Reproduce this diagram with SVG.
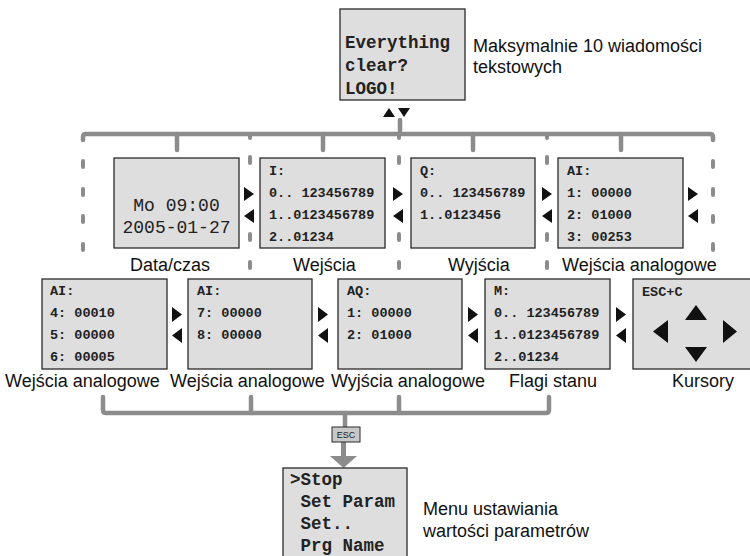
<svg xmlns="http://www.w3.org/2000/svg" width="750" height="556" viewBox="0 0 750 556">
<style>
.box{fill:#dedede;stroke:#2a2a2a;stroke-width:1.3}
.mono{font-family:"Liberation Mono","Courier New",monospace;font-weight:bold;font-size:13.5px;fill:#222}
.big{font-family:"Liberation Mono","Courier New",monospace;font-weight:bold;font-size:17.5px;fill:#222}
.lbl{font-family:"Liberation Sans",Arial,sans-serif;font-size:18px;fill:#111}
.bar{fill:none;stroke:#8c8c8c;stroke-width:4.5;stroke-linecap:round;stroke-linejoin:round}
.dash{fill:none;stroke:#8c8c8c;stroke-width:4;stroke-linecap:round}
.tri{fill:#111}
</style>
<rect width="750" height="556" fill="#fff"/>

<g id="connectors">
  <path class="bar" d="M400,120 V134"/>
  <path class="bar" d="M83,140 V137 Q83,134 86,134 H710 Q713,134 713,137 V140"/>
  <path class="bar" d="M177,134 V150 M323,134 V150 M473,134 V150 M621,134 V150"/>
  <path class="dash" d="M83,161 V167 M83,189 V195 M83,216 V222 M83,244 V250"/>
  <path class="dash" d="M713,161 V167 M713,189 V195 M713,216 V222 M713,244 V250"/>
  <path class="dash" d="M250,134 V138 M250,157 V163 M250,234 V240 M250,262 V268"/>
  <path class="dash" d="M399,134 V138 M399,157 V163 M399,234 V240 M399,262 V268"/>
  <path class="dash" d="M547,134 V138 M547,157 V163 M547,234 V240 M547,262 V268"/>
  <path class="bar" d="M103,397 V410 Q103,413 106,413 H546 Q549,413 549,410 V397"/>
  <path class="bar" d="M251,397 V413 M399,397 V413 M345,413 V427"/>
  <path d="M343.5,442 V457" stroke="#8c8c8c" stroke-width="5" fill="none"/>
  <polygon points="330,456 357,456 343.5,468" fill="#8c8c8c"/>
  <polygon class="tri" points="383,117 389,108 395,117"/>
  <polygon class="tri" points="398,108 410,108 404,117"/>
  <g class="tri">
    <polygon points="244,187 254,194 244,201"/><polygon points="254,209 244,216 254,223"/>
    <polygon points="393,187 403,194 393,201"/><polygon points="403,209 393,216 403,223"/>
    <polygon points="542,187 552,194 542,201"/><polygon points="552,209 542,216 552,223"/>
    <polygon points="688,187 698,194 688,201"/><polygon points="698,209 688,216 698,223"/>
    <polygon points="172,307 182,314.5 172,322"/><polygon points="182,328 172,335.5 182,343"/>
    <polygon points="318,307 328,314.5 318,322"/><polygon points="328,328 318,335.5 328,343"/>
    <polygon points="468,307 478,314.5 468,322"/><polygon points="478,328 468,335.5 478,343"/>
    <polygon points="616,307 626,314.5 616,322"/><polygon points="626,328 616,335.5 626,343"/>
  </g>
</g>

<g id="top">
  <rect class="box" x="340" y="9" width="125" height="91"/>
  <text class="big" x="345" y="48">Everything</text>
  <text class="big" x="345" y="71">clear?</text>
  <text class="big" x="345" y="94">LOGO!</text>
  <text class="lbl" x="473" y="52">Maksymalnie 10 wiadomości</text>
  <text class="lbl" x="473" y="73">tekstowych</text>
</g>

<g id="datetime">
  <rect class="box" x="114" y="158" width="125" height="90"/>
  <text x="176.5" y="211" text-anchor="middle" font-family="Liberation Mono, Courier New, monospace" font-size="18" fill="#222">Mo 09:00</text>
  <text x="176.5" y="233" text-anchor="middle" font-family="Liberation Mono, Courier New, monospace" font-size="18" fill="#222">2005-01-27</text>
  <text class="lbl" x="130" y="271">Data/czas</text>
</g>

<g id="inputs">
  <rect class="box" x="260" y="158" width="125" height="90"/>
  <text class="mono" x="269" y="175">I:</text>
  <text class="mono" x="269" y="197">0.. 123456789</text>
  <text class="mono" x="269" y="219">1..0123456789</text>
  <text class="mono" x="269" y="241">2..01234</text>
  <text class="lbl" x="293" y="271">Wejścia</text>
</g>

<g id="outputs">
  <rect class="box" x="411" y="158" width="124" height="90"/>
  <text class="mono" x="420" y="175">Q:</text>
  <text class="mono" x="420" y="197">0.. 123456789</text>
  <text class="mono" x="420" y="219">1..0123456</text>
  <text class="lbl" x="448" y="271">Wyjścia</text>
</g>

<g id="analog1">
  <rect class="box" x="558" y="158" width="125" height="90"/>
  <text class="mono" x="567" y="175">AI:</text>
  <text class="mono" x="567" y="197">1: 00000</text>
  <text class="mono" x="567" y="219">2: 01000</text>
  <text class="mono" x="567" y="241">3: 00253</text>
  <text class="lbl" x="562" y="271">Wejścia analogowe</text>
</g>

<g id="analog2">
  <rect class="box" x="42" y="279" width="125" height="90"/>
  <text class="mono" x="50" y="295">AI:</text>
  <text class="mono" x="50" y="317">4: 00010</text>
  <text class="mono" x="50" y="339">5: 00000</text>
  <text class="mono" x="50" y="361">6: 00005</text>
  <text class="lbl" x="5" y="387">Wejścia analogowe</text>
</g>

<g id="analog3">
  <rect class="box" x="188" y="279" width="124" height="90"/>
  <text class="mono" x="197" y="295">AI:</text>
  <text class="mono" x="197" y="317">7: 00000</text>
  <text class="mono" x="197" y="339">8: 00000</text>
  <text class="lbl" x="170" y="387">Wejścia analogowe</text>
</g>

<g id="analogout">
  <rect class="box" x="338" y="279" width="124" height="90"/>
  <text class="mono" x="347" y="295">AQ:</text>
  <text class="mono" x="347" y="317">1: 00000</text>
  <text class="mono" x="347" y="339">2: 01000</text>
  <text class="lbl" x="331" y="387">Wyjścia analogowe</text>
</g>

<g id="flags">
  <rect class="box" x="485" y="279" width="125" height="90"/>
  <text class="mono" x="494" y="295">M:</text>
  <text class="mono" x="494" y="317">0.. 123456789</text>
  <text class="mono" x="494" y="339">1..0123456789</text>
  <text class="mono" x="494" y="361">2..01234</text>
  <text class="lbl" x="509" y="387">Flagi stanu</text>
</g>

<g id="cursors">
  <rect class="box" x="633" y="279" width="125" height="90"/>
  <text class="mono" x="642" y="296">ESC+C</text>
  <polygon class="tri" points="685,320 707,320 696,305"/>
  <polygon class="tri" points="685,347 707,347 696,362"/>
  <polygon class="tri" points="668,320 668,343 653,331.5"/>
  <polygon class="tri" points="723,320 723,343 737,331.5"/>
  <text class="lbl" x="672" y="387">Kursory</text>
</g>

<g id="esc">
  <rect x="332" y="427" width="28" height="15" fill="#c8c8c8" stroke="#2a2a2a" stroke-width="1"/>
  <text x="346" y="438" text-anchor="middle" font-family="Liberation Sans, Arial, sans-serif" font-size="9" fill="#222">ESC</text>
</g>

<g id="menu">
  <rect class="box" x="283" y="468" width="124" height="100"/>
  <text class="big" x="290" y="485">&gt;Stop</text>
  <text class="big" x="300.5" y="507">Set Param</text>
  <text class="big" x="300.5" y="529">Set..</text>
  <text class="big" x="300.5" y="551">Prg Name</text>
  <text class="lbl" x="423" y="515">Menu ustawiania</text>
  <text class="lbl" x="423" y="537">wartości parametrów</text>
</g>
</svg>
